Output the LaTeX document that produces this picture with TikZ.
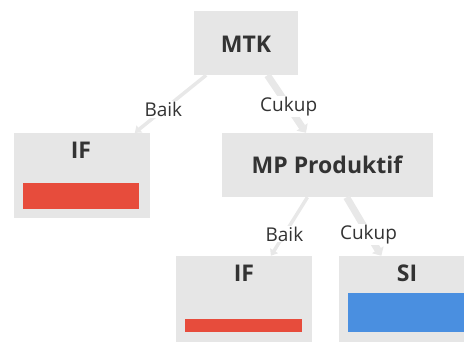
\documentclass[tikz,border=0pt]{standalone}
\usepackage{fontspec}
\setmainfont{Open Sans}
\usetikzlibrary{arrows.meta}
\definecolor{boxgray}{HTML}{E6E6E6}
\definecolor{edgegray}{HTML}{E8E8E8}
\definecolor{barred}{HTML}{E74C3C}
\definecolor{barblue}{HTML}{4A8FE0}
\definecolor{txt}{HTML}{333333}
\begin{document}
\begin{tikzpicture}[x=1pt,y=1pt,yscale=-1,
  box/.style={rectangle,fill=boxgray,draw=none,inner sep=0pt},
  title/.style={inner sep=0pt,text=txt,font=\fontsize{23}{26}\selectfont\bfseries},
  lbl/.style={fill=white,inner sep=1pt,text=txt,font=\fontsize{19}{22}\selectfont},
  thinedge/.style={draw=edgegray,line width=3.5pt,-{Triangle[width=9pt,length=6pt]}},
  thickedge/.style={draw=edgegray,line width=7pt,-{Triangle[width=13pt,length=7pt]}},
  redbar/.style={rectangle,fill=barred,inner sep=0pt},
  bluebar/.style={rectangle,fill=barblue,inner sep=0pt}]
\useasboundingbox (0,0) rectangle (464,343);
\begin{scope}
\clip (0,0) rectangle (464,343);
% boxes
\node[box,minimum width=104pt,minimum height=64pt] (mtk) at (246,43) {};
\node[box,minimum width=136pt,minimum height=85pt] (ifl) at (82,175.5) {};
\node[box,minimum width=211pt,minimum height=64pt] (mp) at (327.5,165) {};
\node[box,minimum width=136pt,minimum height=86pt] (ifb) at (244,299) {};
\node[box,minimum width=136pt,minimum height=86pt] (si) at (407,299) {};
% titles
\node[title] (tmtk) at (246,44) {MTK};
\node[title] (tifl) at (81,150) {IF};
\node[title] (tmp) at (327,165) {MP Produktif};
\node[title] (tifb) at (244,273) {IF};
\node[title] (tsi) at (407,273) {SI};
% bars
\node[redbar,minimum width=116pt,minimum height=26pt] (bifl) at (81,196) {};
\node[redbar,minimum width=117pt,minimum height=13pt] (bifb) at (243.5,325.5) {};
\node[bluebar,minimum width=118pt,minimum height=39pt] (bsi) at (407,312.5) {};
% edges
\draw[thinedge] (mtk) -- node[lbl,pos=0.6] (l1) {Baik} (ifl);
\draw[thickedge] (mtk) -- node[lbl,pos=0.55] (l2) {Cukup} (mp);
\draw[thinedge] (mp) -- node[lbl,pos=0.63] (l3) {Baik} (ifb);
\draw[thickedge] (mp) -- node[lbl,pos=0.63] (l4) {Cukup} (si);
\end{scope}
\end{tikzpicture}
\end{document}
